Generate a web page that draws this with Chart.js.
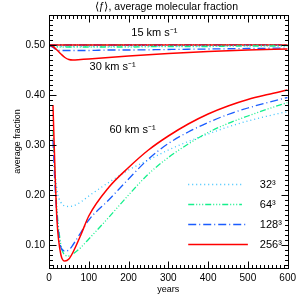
<!DOCTYPE html>
<html><head><meta charset="utf-8">
<script src="https://cdn.jsdelivr.net/npm/chart.js@4/dist/chart.umd.min.js"></script>
<style>html,body{margin:0;padding:0;background:#fff}#c{display:block}</style>
</head><body>
<canvas id="c" width="300" height="300"></canvas>
<script>
// ---- data ----
const years15 = [0, 100, 200, 300, 400, 500, 600];
const cyan15  = [0.5, 0.5, 0.5, 0.5, 0.5, 0.5, 0.5];
const green15 = [0.5, 0.5, 0.5, 0.5, 0.5, 0.5, 0.5];
const blue15  = [0.5, 0.5, 0.5, 0.5, 0.5, 0.5, 0.5];
const red15   = [0.5, 0.5, 0.5, 0.5, 0.5, 0.5, 0.5];

const years30 = [0, 10, 20, 30, 40, 50, 60, 80, 100, 150, 200, 300, 400, 500, 600];
const cyan30  = [0.5, 0.498, 0.497, 0.497, 0.497, 0.497, 0.497, 0.497, 0.497, 0.497, 0.498, 0.498, 0.498, 0.499, 0.499];
const green30 = [0.5, 0.497, 0.496, 0.496, 0.496, 0.496, 0.496, 0.496, 0.496, 0.496, 0.496, 0.497, 0.497, 0.498, 0.498];
const blue30  = [0.5, 0.495, 0.49, 0.489, 0.489, 0.489, 0.489, 0.489, 0.489, 0.49, 0.49, 0.491, 0.492, 0.493, 0.494];
const red30   = [0.5, 0.497, 0.49, 0.482, 0.475, 0.471, 0.47, 0.471, 0.472, 0.475, 0.478, 0.483, 0.487, 0.49, 0.492];

const years60 = [10, 15, 20, 30, 40, 50, 60, 80, 100, 150, 200, 250, 300, 350, 400, 450, 500, 550, 600];
const cyan60  = [0.32, 0.25, 0.21, 0.185, 0.178, 0.177, 0.178, 0.186, 0.198, 0.225, 0.25, 0.27, 0.29, 0.307, 0.322, 0.336, 0.348, 0.358, 0.367];
const green60 = [0.33, 0.24, 0.17, 0.10, 0.08, 0.078, 0.082, 0.095, 0.112, 0.155, 0.2, 0.242, 0.275, 0.302, 0.325, 0.343, 0.358, 0.372, 0.385];
const blue60  = [0.31, 0.22, 0.16, 0.095, 0.088, 0.09, 0.1, 0.125, 0.15, 0.19, 0.232, 0.272, 0.303, 0.326, 0.345, 0.361, 0.374, 0.385, 0.395];
const red60   = [0.38, 0.25, 0.15, 0.08, 0.068, 0.072, 0.085, 0.12, 0.158, 0.215, 0.255, 0.29, 0.318, 0.342, 0.362, 0.378, 0.391, 0.401, 0.41];

const xTicks = [0, 100, 200, 300, 400, 500, 600];
const yTicks = [0.1, 0.2, 0.3, 0.4, 0.5];
const resolutions = ['32³', '64³', '128³', '256³'];
const speedLabels = ['15 km s⁻¹', '30 km s⁻¹', '60 km s⁻¹'];
const titleText = '⟨ƒ⟩, average molecular fraction';

// ---- styles ----
const FONT = '"Liberation Sans", Arial, sans-serif';
const styles = [
  {color: '#3cc3ff', dash: [1, 3], width: 1.3},
  {color: '#14f08c', dash: [6, 2, 1, 2, 1, 2, 1, 2], width: 1.3},
  {color: '#1a5cff', dash: [8, 3, 1, 3], width: 1.3},
  {color: '#ff0000', dash: [], width: 1.5}
];
const zip = (xs, ys) => xs.map((x, i) => ({x, y: ys[i]}));
const groups = [
  [years15, [cyan15, green15, blue15, red15]],
  [years30, [cyan30, green30, blue30, red30]],
  [years60, [cyan60, green60, blue60, red60]]
];
const datasets = [];
groups.forEach(([xs, series], g) => {
  series.forEach((ys, k) => {
    datasets.push({
      label: resolutions[k] + ' ' + speedLabels[g],
      data: zip(xs, ys),
      borderColor: styles[k].color,
      borderDash: styles[k].dash,
      borderWidth: styles[k].width,
      pointRadius: 0,
      fill: false,
      cubicInterpolationMode: 'monotone',
      order: g === 0 ? 10 - k : 5 - k
    });
  });
});

// legend / annotation anchor positions (data units)
const annot = [
  {t: 265, v: 0.524, text: speedLabels[0]},
  {t: 160, v: 0.456, text: speedLabels[1]},
  {t: 210, v: 0.330, text: speedLabels[2]}
];
const legendRows = [0.222, 0.182, 0.142, 0.102];

const framePlugin = {
  id: 'frame',
  afterDraw(chart) {
    const {ctx, chartArea: a, scales: {x, y}} = chart;
    ctx.save();
    ctx.strokeStyle = '#000';
    ctx.lineWidth = 1;
    const L = Math.round(a.left) + 0.5, R = Math.round(a.right) + 0.5;
    const T = Math.round(a.top) + 0.5, B = Math.round(a.bottom) + 0.5;
    ctx.strokeRect(L, T, R - L, B - T);
    ctx.beginPath();
    for (let t = 0; t <= 600; t += 10) {
      const px = Math.round(x.getPixelForValue(t)) + 0.5;
      const len = t % 100 === 0 ? 7 : 3.5;
      ctx.moveTo(px, B); ctx.lineTo(px, B - len);
      ctx.moveTo(px, T); ctx.lineTo(px, T + len);
    }
    for (let k = Math.ceil(y.min * 100); k <= Math.floor(y.max * 100); k++) {
      const py = Math.round(y.getPixelForValue(k / 100)) + 0.5;
      const len = k % 10 === 0 ? 7 : 3.5;
      ctx.moveTo(L, py); ctx.lineTo(L + len, py);
      ctx.moveTo(R, py); ctx.lineTo(R - len, py);
    }
    ctx.stroke();

    // title
    ctx.fillStyle = '#000';
    ctx.font = '10.5px ' + FONT;
    ctx.textAlign = 'center';
    ctx.textBaseline = 'middle';
    ctx.fillText(titleText, (a.left + a.right) / 2 - 2, 7.5);

    // annotations
    ctx.font = '11px ' + FONT;
    annot.forEach(an => ctx.fillText(an.text, x.getPixelForValue(an.t), y.getPixelForValue(an.v)));

    // legend
    legendRows.forEach((v, k) => {
      const py = Math.round(y.getPixelForValue(v)) + 0.5;
      ctx.strokeStyle = styles[k].color;
      ctx.lineWidth = styles[k].width;
      ctx.setLineDash(styles[k].dash);
      ctx.beginPath();
      ctx.moveTo(x.getPixelForValue(350), py);
      ctx.lineTo(x.getPixelForValue(k < 2 ? 485 : 500), py);
      ctx.stroke();
      ctx.setLineDash([]);
      ctx.textAlign = 'left';
      ctx.fillText(resolutions[k], x.getPixelForValue(530), py);
    });
    ctx.restore();
  }
};

new Chart(document.getElementById('c'), {
  type: 'line',
  data: {datasets},
  options: {
    responsive: false,
    animation: false,
    devicePixelRatio: 1,
    layout: {padding: {left: 12, right: 11, top: 15, bottom: 0}},
    plugins: {
      legend: {display: false},
      tooltip: {enabled: false},
      title: {display: false}
    },
    scales: {
      x: {
        type: 'linear', min: 0, max: 600,
        afterBuildTicks: s => { s.ticks = xTicks.map(v => ({value: v})); },
        afterFit: s => { s.height = 32; },
        grid: {display: false, drawTicks: false},
        border: {display: false},
        ticks: {color: '#000', font: {family: FONT, size: 10}, padding: 4, maxRotation: 0},
        title: {display: true, text: 'years', color: '#000', font: {family: FONT, size: 9}, padding: {top: 0, bottom: 5}}
      },
      y: {
        type: 'linear', min: 0.054, max: 0.56,
        afterBuildTicks: s => { s.ticks = yTicks.map(v => ({value: v})); },
        afterFit: s => { s.width = 37; },
        grid: {display: false, drawTicks: false},
        border: {display: false},
        ticks: {color: '#000', font: {family: FONT, size: 10}, padding: 4, callback: v => v.toFixed(2)},
        title: {display: true, text: 'average fraction', color: '#000', font: {family: FONT, size: 9}, padding: {top: 0, bottom: 0}}
      }
    }
  },
  plugins: [framePlugin]
});
</script>
</body></html>
